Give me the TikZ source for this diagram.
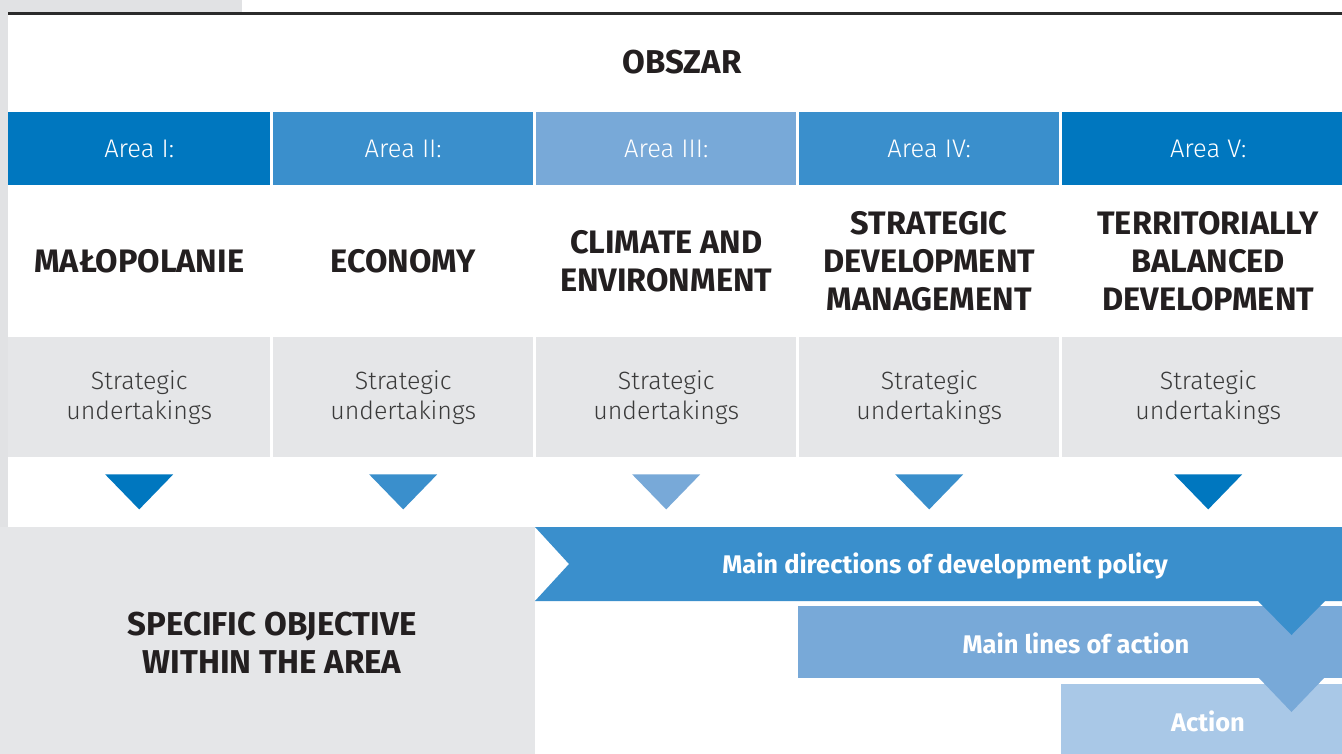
\documentclass[tikz,border=0pt]{standalone}
\usepackage{fontspec}
\setmainfont{Fira Sans}
\newfontfamily\lightfont{Fira Sans Light}
\usetikzlibrary{calc}
\definecolor{bdark}{HTML}{0077BF}
\definecolor{bmid}{HTML}{3A8FCC}
\definecolor{blight}{HTML}{78A9D8}
\definecolor{bpale}{HTML}{A9C8E7}
\definecolor{boxgray}{HTML}{E5E6E8}
\definecolor{stripgray}{HTML}{E1E2E4}
\definecolor{textdark}{HTML}{231F20}
\definecolor{textgray}{HTML}{3A3A3A}
\definecolor{rule}{HTML}{2B2B2B}
\tikzset{
  hdr/.style={anchor=north west, inner sep=0pt, minimum height=73pt, text=white,
    font=\lightfont\fontsize{25.5}{30}\selectfont},
  ttl/.style={align=center, inner sep=0pt, text=textdark,
    font=\bfseries\fontsize{32.5}{38}\selectfont},
  strat/.style={anchor=north west, inner sep=0pt, minimum height=120pt, fill=boxgray,
    align=center, text=textgray, font=\lightfont\fontsize{25}{30}\selectfont},
  flowtext/.style={text=white, inner sep=0pt, font=\bfseries\fontsize{25.5}{30}\selectfont},
}
\begin{document}
\begin{tikzpicture}[x=1pt,y=-1pt]
\clip (0,0) rectangle (1342,754);
\fill[white] (0,0) rectangle (1342,754);
% gray margins
\fill[stripgray] (0,0) rectangle (242,12);
\fill[stripgray] (0,0) rectangle (8,754);
\draw[rule, line width=3pt] (8,13.5) -- (1342,13.5);
% title
\node[inner sep=0pt, text=textdark, font=\bfseries\fontsize{33}{38}\selectfont] (obszar) at (682,62) {OBSZAR};
% header row
\node[hdr, fill=bdark,  minimum width=262pt] (h1) at (8,112)    {Area I:};
\node[hdr, fill=bmid,   minimum width=260pt] (h2) at (273,112)  {Area II:};
\node[hdr, fill=blight, minimum width=260pt] (h3) at (536,112)  {Area III:};
\node[hdr, fill=bmid,   minimum width=260pt] (h4) at (799,112)  {Area IV:};
\node[hdr, fill=bdark,  minimum width=292pt] (h5) at (1062,112) {Area V:};
% area titles
\node[ttl] (t1) at (h1.center |- 0,261) {MAŁOPOLANIE};
\node[ttl] (t2) at (h2.center |- 0,261) {ECONOMY};
\node[ttl] (t3) at (h3.center |- 0,261) {CLIMATE AND\\ENVIRONMENT};
\node[ttl] (t4) at (h4.center |- 0,261) {STRATEGIC\\DEVELOPMENT\\MANAGEMENT};
\node[ttl] (t5) at (h5.center |- 0,261) {TERRITORIALLY\\BALANCED\\DEVELOPMENT};
% strategic undertakings
\node[strat, minimum width=262pt] (s1) at (8,337)    {Strategic\\undertakings};
\node[strat, minimum width=260pt] (s2) at (273,337)  {Strategic\\undertakings};
\node[strat, minimum width=260pt] (s3) at (536,337)  {Strategic\\undertakings};
\node[strat, minimum width=260pt] (s4) at (799,337)  {Strategic\\undertakings};
\node[strat, minimum width=292pt] (s5) at (1062,337) {Strategic\\undertakings};
% down triangles
\foreach \n/\c in {s1/bdark, s2/bmid, s3/blight, s4/bmid, s5/bdark}{
  \fill[\c] ($(\n.south)+(-34,17)$) -- ($(\n.south)+(34,17)$) -- ($(\n.south)+(0,52)$) -- cycle;
}
% bottom-left objective area
\fill[boxgray] (0,527) rectangle (535,754);
\node[inner sep=0pt, align=center, text=textdark, font=\bfseries\fontsize{33}{38}\selectfont] (obj) at (272,643) {SPECIFIC OBJECTIVE\\WITHIN THE AREA};
% action box
\node[anchor=north west, inner sep=0pt, fill=bpale, minimum width=281pt, minimum height=70pt] (act) at (1061,684) {};
\node[flowtext] (actt) at (1208,721) {Action};
% main lines of action
\node[anchor=north west, inner sep=0pt, fill=blight, minimum width=544pt, minimum height=72pt] (lines) at (798,606) {};
\fill[blight] (1258,677) -- (1325,677) -- (1291.5,712) -- cycle;
\node[flowtext] (linest) at (1076,643) {Main lines of action};
% main directions chevron
\fill[bmid] (535,527) -- (1342,527) -- (1342,601) -- (1325,601) -- (1291.5,635) -- (1258,601) -- (535,601) -- (569,564) -- cycle;
\node[flowtext] (dirt) at (945,566) {Main directions of development policy};
\end{tikzpicture}
\end{document}
